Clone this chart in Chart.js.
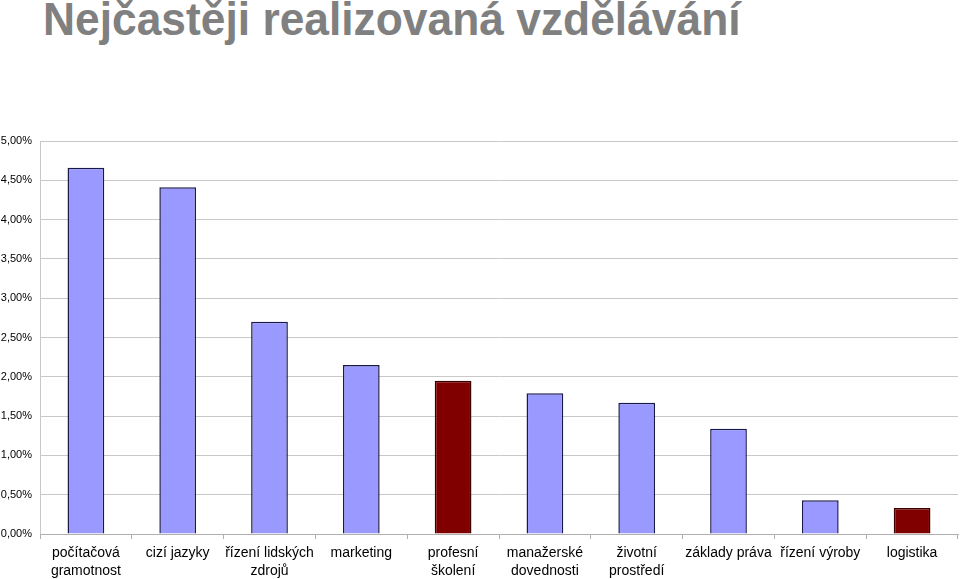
<!DOCTYPE html>
<html>
<head>
<meta charset="utf-8">
<script src="https://cdn.jsdelivr.net/npm/chart.js@4/dist/chart.umd.min.js"></script>
<style>
  html, body { margin: 0; padding: 0; background: #fff; }
  #wrap { position: relative; width: 960px; height: 579px; }
  #title {
    position: absolute; left: 43px; top: -8px;
    font-family: "Liberation Sans", Arial, sans-serif;
    font-weight: bold; font-size: 46px; color: #808080; white-space: nowrap;
    transform: scaleX(0.964); transform-origin: left top;
  }
  canvas { position: absolute; left: 0; top: 0; }
</style>
</head>
<body>
<div id="wrap">
  <div id="title">Nejčastěji realizovaná vzdělávání</div>
  <canvas id="chart" width="960" height="579"></canvas>
</div>
<script>
const categories = [
  ['počítačová', 'gramotnost'], 'cizí jazyky', ['řízení lidských', 'zdrojů'], 'marketing',
  ['profesní', 'školení'], ['manažerské', 'dovednosti'], ['životní', 'prostředí'],
  'základy práva', 'řízení výroby', 'logistika'
];
const values = [4.66, 4.41, 2.70, 2.15, 1.95, 1.79, 1.67, 1.34, 0.43, 0.33];
const highlighted = [false, false, false, false, true, false, false, false, false, true];
const yTicks = [0, 0.5, 1, 1.5, 2, 2.5, 3, 3.5, 4, 4.5, 5];

const fills = highlighted.map(h => h ? '#800000' : '#9999ff');
const borders = highlighted.map(h => h ? '#3a0000' : '#1a1a4a');

new Chart(document.getElementById('chart'), {
  type: 'bar',
  data: {
    labels: categories,
    datasets: [{
      data: values,
      backgroundColor: fills,
      borderColor: borders,
      borderWidth: 1.5,
      categoryPercentage: 1,
      barPercentage: 0.4
    }]
  },
  options: {
    responsive: false,
    animation: false,
    layout: { padding: { top: 141, right: 2, left: 0, bottom: 0 } },
    plugins: { legend: { display: false }, tooltip: { enabled: false } },
    scales: {
      y: {
        min: 0, max: 5,
        afterFit: s => { s.width = 40; },
        afterBuildTicks: s => { s.ticks = yTicks.map(v => ({ value: v })); },
        ticks: {
          color: '#000',
          padding: 8,
          font: { family: 'Liberation Sans, Arial, sans-serif', size: 11 },
          callback: v => v.toFixed(2).replace('.', ',') + '%'
        },
        grid: { color: '#c8c8c8', lineWidth: 1, drawTicks: false },
        border: { color: '#c8c8c8' }
      },
      x: {
        afterFit: s => { s.height = 45; },
        ticks: {
          color: '#000',
          padding: 5,
          maxRotation: 0,
          autoSkip: false,
          font: { family: 'Liberation Sans, Arial, sans-serif', size: 14, lineHeight: '18px' }
        },
        grid: { offset: true, drawOnChartArea: false, tickLength: 5, color: '#b0b0b0' },
        border: { color: '#b0b0b0' }
      }
    }
  }
});
</script>
</body>
</html>
